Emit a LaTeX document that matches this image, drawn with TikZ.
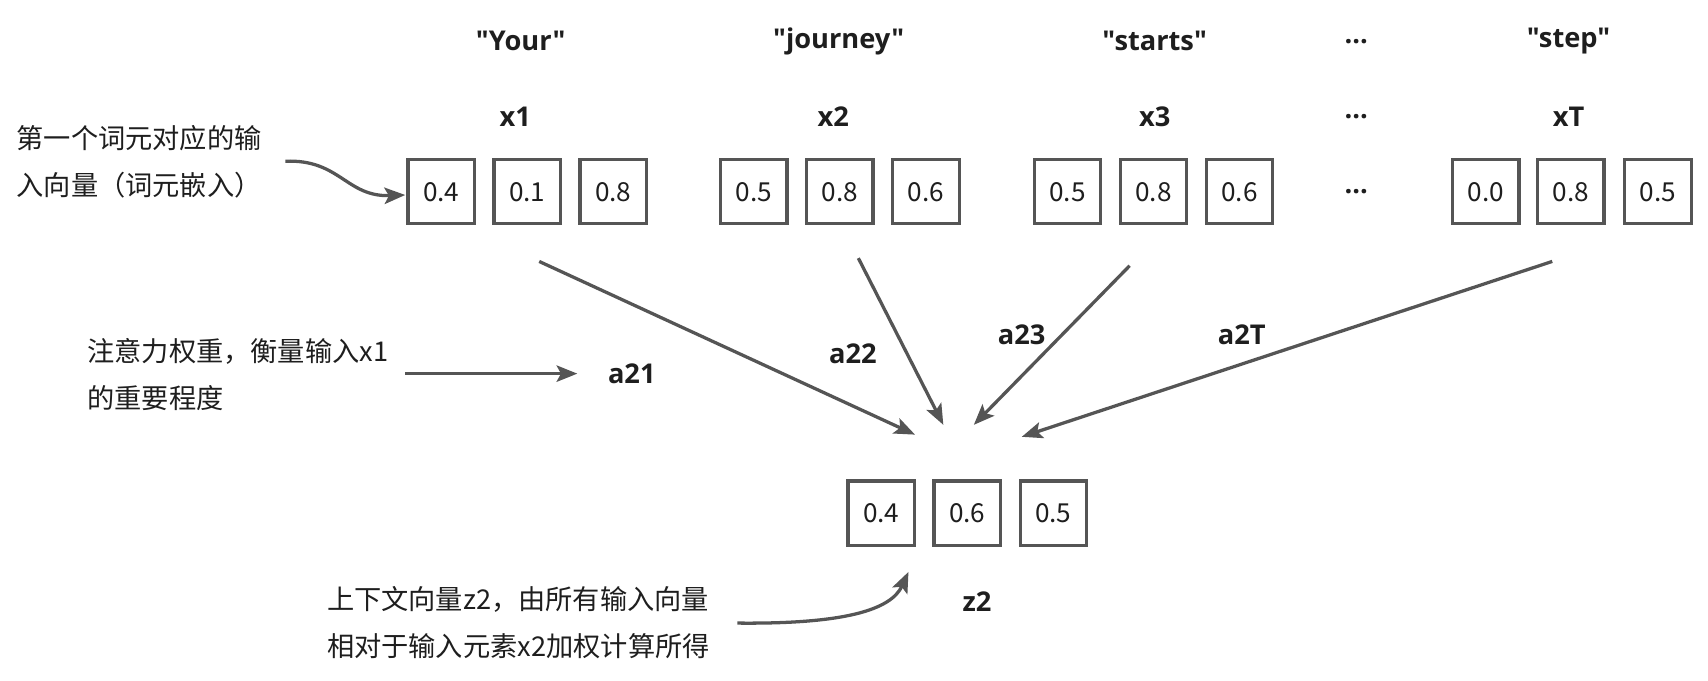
\documentclass[tikz,border=0pt]{standalone}
\usepackage{fontspec}
\setmainfont{Noto Sans CJK SC}
\newfontfamily\latinf{Open Sans}
\usetikzlibrary{arrows.meta}
\definecolor{lc}{HTML}{555555}
\definecolor{tc}{HTML}{1E1E1E}
\tikzset{
  cell/.style={draw=lc, line width=2.9pt, minimum width=61pt, minimum height=59pt, inner sep=0pt, text=tc, font=\fontsize{24}{28}\selectfont},
  lab/.style={text=tc, font=\latinf\bfseries\fontsize{25}{30}\selectfont, inner sep=0pt},
  note/.style={text=tc, font=\fontsize{25}{43}\selectfont, align=left, inner sep=0pt, anchor=west},
  arr/.style={draw=lc, line width=3pt, -{Stealth[length=19pt, width=15pt, inset=4pt]}},
}
\begin{document}
\begin{tikzpicture}[x=1pt, y=-1pt]
\useasboundingbox (0,0) rectangle (1568,625);
% word labels
\node[lab] (w1) at (478,38) {"Your"};
\node[lab] (w2) at (770,38) {"journey"};
\node[lab] (w3) at (1060,38) {"starts"};
\node[lab] (wd) at (1245,38) {...};
\node[lab] (w4) at (1440,38) {"step"};
% vector labels
\node[lab] (l1) at (473,107) {x1};
\node[lab] (l2) at (765,107) {x2};
\node[lab] (l3) at (1060,107) {x3};
\node[lab] (ld) at (1245,107) {...};
\node[lab] (l4) at (1440,107) {xT};
% cells
\node[cell] (a1) at (405,176) {0.4};
\node[cell] (a2) at (484,176) {0.1};
\node[cell] (a3) at (563,176) {0.8};
\node[cell] (b1) at (692,176) {0.5};
\node[cell] (b2) at (771,176) {0.8};
\node[cell] (b3) at (850,176) {0.6};
\node[cell] (c1) at (980,176) {0.5};
\node[cell] (c2) at (1059,176) {0.8};
\node[cell] (c3) at (1138,176) {0.6};
\node[lab] (cd) at (1245,176) {...};
\node[cell] (d1) at (1364,176) {0.0};
\node[cell] (d2) at (1442,176) {0.8};
\node[cell] (d3) at (1522,176) {0.5};
\node[cell] (z1) at (809,471) {0.4};
\node[cell] (z2) at (888,471) {0.6};
\node[cell] (z3) at (967,471) {0.5};
\node[lab] (zl) at (897,552) {z2};
% weight labels
\node[lab] (k1) at (580,343) {a21};
\node[lab] (k2) at (783,325) {a22};
\node[lab] (k3) at (938,307) {a23};
\node[lab] (k4) at (1140,307) {a2T};
% notes
\node[note] (n1) at (15,148.5) {第一个词元对应的输\\入向量（词元嵌入）};
\node[note] (n2) at (80,343.5) {注意力权重，衡量输入x1\\的重要程度};
\node[note] (n3) at (300,571.5) {上下文向量z2，由所有输入向量\\相对于输入元素x2加权计算所得};
% arrow endpoints
\coordinate (s1) at (495,240);
\coordinate (e1) at (840,399);
\coordinate (s2) at (788,237);
\coordinate (e2) at (866,390);
\coordinate (s3) at (1037,244);
\coordinate (e3) at (894,390);
\coordinate (s4) at (1425,240);
\coordinate (e4) at (938,401);
\coordinate (p1) at (262,148);
\coordinate (q1) at (372,179);
\coordinate (p2) at (372,343);
\coordinate (q2) at (530,343);
\coordinate (p3) at (677,572);
\coordinate (q3) at (834,525);
\draw[arr] (s1) -- (e1);
\draw[arr] (s2) -- (e2);
\draw[arr] (s3) -- (e3);
\draw[arr] (s4) -- (e4);
\draw[arr] (p1) .. controls (312,146) and (318,181) .. (q1);
\draw[arr] (p2) -- (q2);
\draw[arr] (p3) .. controls (775,573) and (818,560) .. (q3);
\end{tikzpicture}
\end{document}
